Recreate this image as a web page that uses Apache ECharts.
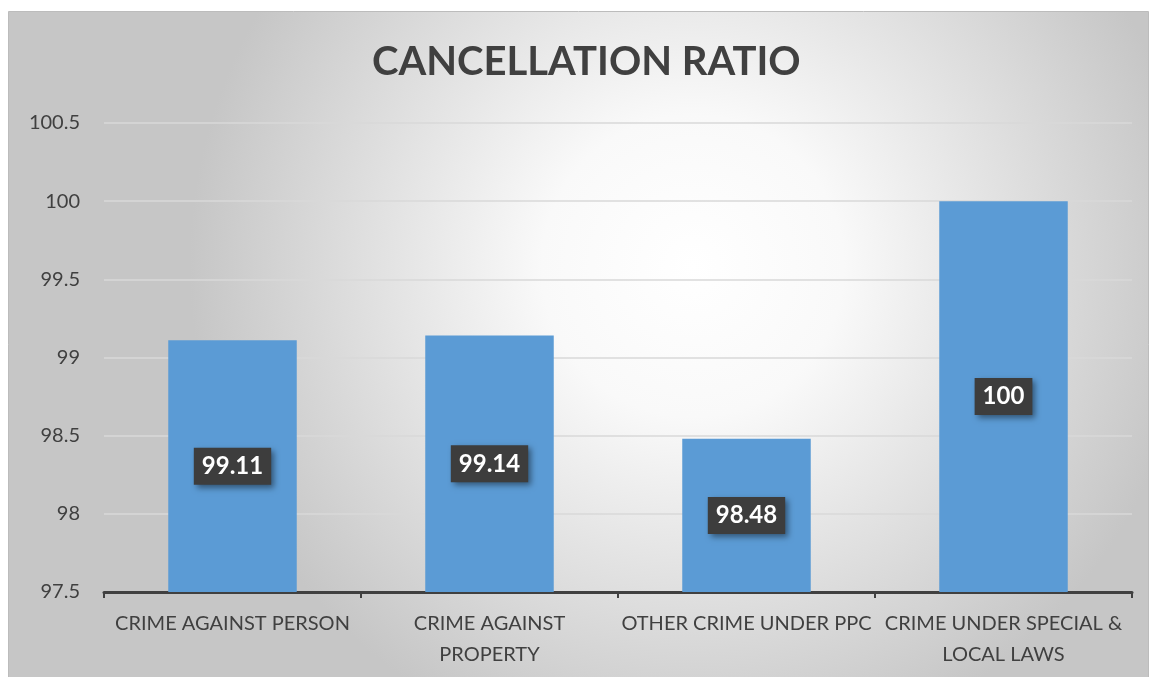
<!DOCTYPE html>
<html>
<head>
<meta charset="utf-8">
<script src="https://cdn.jsdelivr.net/npm/echarts@6/dist/echarts.min.js"></script>
<style>
  html, body { margin: 0; padding: 0; background: #fff; }
  #chart { width: 1150px; height: 677px; }
</style>
</head>
<body>
<div id="chart"></div>
<script>
// data
const categories = ['CRIME AGAINST PERSON', 'CRIME AGAINST\nPROPERTY', 'OTHER CRIME UNDER PPC', 'CRIME UNDER SPECIAL &\nLOCAL LAWS'];
const ratios = [99.11, 99.14, 98.48, 100];
const yMin = 97.5, yMax = 100.5, yStep = 0.5;

const chart = echarts.init(document.getElementById('chart'));
const font = 'Lato, "Open Sans", sans-serif';

chart.setOption({
  backgroundColor: '#fff',
  graphic: [{
    type: 'rect',
    z: -10,
    silent: true,
    shape: { x: 8.5, y: 11.5, width: 1140, height: 670 },
    style: {
      fill: new echarts.graphic.RadialGradient(0.6, 0.38, 0.75, [
        { offset: 0, color: '#ffffff' },
        { offset: 0.3, color: '#f9f9f9' },
        { offset: 1, color: '#c6c6c6' }
      ]),
      stroke: '#bcbcbc',
      lineWidth: 1
    }
  }],
  title: {
    text: 'CANCELLATION RATIO',
    left: 367,
    top: 37,
    textStyle: { fontFamily: font, fontSize: 40, fontWeight: 'bold', color: '#404040' }
  },
  grid: { left: 104, right: 18, top: 123, bottom: 85 },
  xAxis: {
    type: 'category',
    data: categories,
    axisLine: { lineStyle: { color: '#404040', width: 3 } },
    axisTick: { show: true, length: 6, lineStyle: { color: '#404040', width: 2 } },
    axisLabel: { fontFamily: font, fontSize: 20, color: '#404040', margin: 16, lineHeight: 31, interval: 0 }
  },
  yAxis: {
    type: 'value',
    min: yMin,
    max: yMax,
    interval: yStep,
    axisLine: { show: false },
    axisTick: { show: false },
    axisLabel: { fontFamily: font, fontSize: 20, color: '#404040', margin: 24 },
    splitLine: { lineStyle: { color: '#d9d9d9', width: 1.5 } }
  },
  series: [{
    type: 'bar',
    data: ratios,
    barWidth: '50%',
    itemStyle: { color: '#5b9bd5' },
    label: {
      show: true,
      position: 'inside',
      fontFamily: font,
      fontSize: 24,
      fontWeight: 'bold',
      color: '#ffffff',
      backgroundColor: '#3d3d3d',
      padding: [7, 8, 6, 8],
      shadowColor: 'rgba(0,0,0,0.45)',
      shadowBlur: 6,
      shadowOffsetX: 3,
      shadowOffsetY: 3
    }
  }]
});
</script>
</body>
</html>
